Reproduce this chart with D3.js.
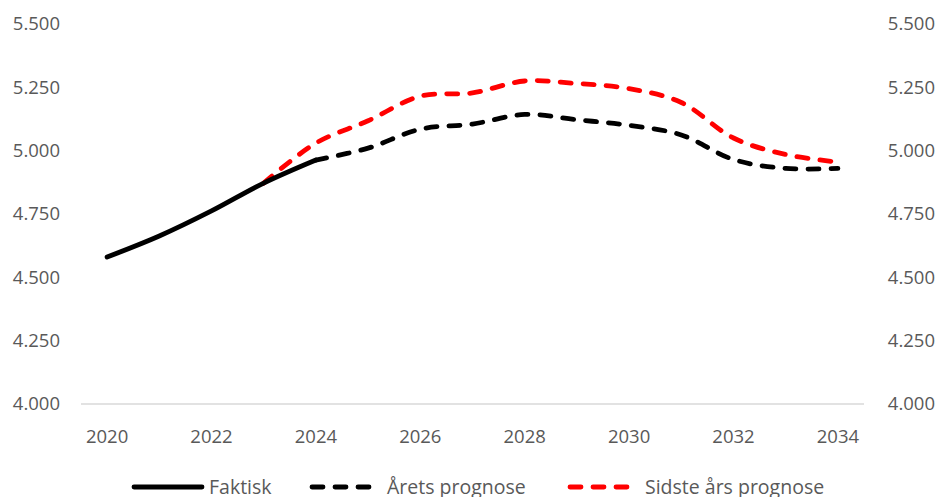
<!DOCTYPE html>
<html>
<head>
<meta charset="utf-8">
<script src="https://cdn.jsdelivr.net/npm/d3@7"></script>
<style>
  body { margin: 0; background: #fff; }
  text { font-family: "Open Sans", "Noto Sans", sans-serif; fill: #595959; }
</style>
</head>
<body>
<svg id="chart" width="938" height="497"></svg>
<script>
// data
var years = d3.range(2020, 2035);
var faktisk = [[2020, 4.580], [2021, 4.663], [2022, 4.762], [2023, 4.872], [2024, 4.963]];
var aretsPrognose = [[2024, 4.963], [2025, 5.010], [2026, 5.085], [2027, 5.105], [2028, 5.143],
    [2029, 5.122], [2030, 5.100], [2031, 5.062], [2032, 4.965], [2033, 4.930], [2034, 4.930]];
var sidsteAarsPrognose = [[2023, 4.872], [2024, 5.030], [2025, 5.118], [2026, 5.215], [2027, 5.228],
    [2028, 5.275], [2029, 5.265], [2030, 5.245], [2031, 5.190], [2032, 5.050], [2033, 4.985], [2034, 4.955]];
var yTicks = [4.0, 4.25, 4.5, 4.75, 5.0, 5.25, 5.5];
var xTicks = [2020, 2022, 2024, 2026, 2028, 2030, 2032, 2034];

var svg = d3.select("#chart");

var x = d3.scaleBand().domain(years).range([81, 864]);
var y = d3.scaleLinear().domain([4.0, 5.5]).range([404, 24]);
// danish: thousands sep "." decimal ","
var dk = d3.formatLocale({decimal: ",", thousands: ".", grouping: [3], currency: ["", " kr."]});
var yFmt = function(d){ return dk.format(",.0f")(d * 1000); };

function cx(yr){ return x(yr) + x.bandwidth() / 2; }

// bottom axis line
svg.append("line")
    .attr("x1", x.range()[0]).attr("x2", x.range()[1])
    .attr("y1", y(4.0)).attr("y2", y(4.0))
    .attr("stroke", "#d9d9d9").attr("stroke-width", 1.3);

// y labels left and right
svg.append("g").selectAll("text").data(yTicks).enter().append("text")
    .attr("x", 60).attr("y", function(d){ return y(d); })
    .attr("dy", "0.35em").attr("text-anchor", "end")
    .attr("font-size", "18.5px")
    .text(yFmt);

svg.append("g").selectAll("text").data(yTicks).enter().append("text")
    .attr("x", 935).attr("y", function(d){ return y(d); })
    .attr("dy", "0.35em").attr("text-anchor", "end")
    .attr("font-size", "18.5px")
    .text(yFmt);

// x labels
svg.append("g").selectAll("text").data(xTicks).enter().append("text")
    .attr("x", function(d){ return cx(d); })
    .attr("y", 437).attr("dy", "0.35em")
    .attr("text-anchor", "middle")
    .attr("font-size", "18.5px")
    .text(function(d){ return d; });

var line = d3.line()
    .x(function(d){ return cx(d[0]); })
    .y(function(d){ return y(d[1]); })
    .curve(d3.curveCatmullRom.alpha(0.5));

svg.append("path").datum(sidsteAarsPrognose)
    .attr("d", line).attr("fill", "none")
    .attr("stroke", "#ff0000").attr("stroke-width", 4.8)
    .attr("stroke-linecap", "round").attr("stroke-dasharray", "11,12");

svg.append("path").datum(aretsPrognose)
    .attr("d", line).attr("fill", "none")
    .attr("stroke", "#000").attr("stroke-width", 4.8)
    .attr("stroke-linecap", "round").attr("stroke-dasharray", "11,12");

svg.append("path").datum(faktisk)
    .attr("d", line).attr("fill", "none")
    .attr("stroke", "#000").attr("stroke-width", 4.8)
    .attr("stroke-linecap", "round");

// legend
var legend = [
    {name: "Faktisk", color: "#000", dash: null, x: 134},
    {name: "Årets prognose", color: "#000", dash: "11,12", x: 312},
    {name: "Sidste års prognose", color: "#ff0000", dash: "11,12", x: 570}
];
var lg = svg.append("g").selectAll("g").data(legend).enter().append("g")
    .attr("transform", function(d){ return "translate(" + d.x + ",487)"; });
lg.append("line")
    .attr("x1", 0).attr("x2", 68).attr("y1", 0).attr("y2", 0)
    .attr("stroke", function(d){ return d.color; })
    .attr("stroke-width", 4.8).attr("stroke-linecap", "round")
    .attr("stroke-dasharray", function(d){ return d.dash; });
lg.append("text")
    .attr("x", 75).attr("y", 0).attr("dy", "0.35em")
    .attr("font-size", "19.5px")
    .text(function(d){ return d.name; });
</script>
</body>
</html>
